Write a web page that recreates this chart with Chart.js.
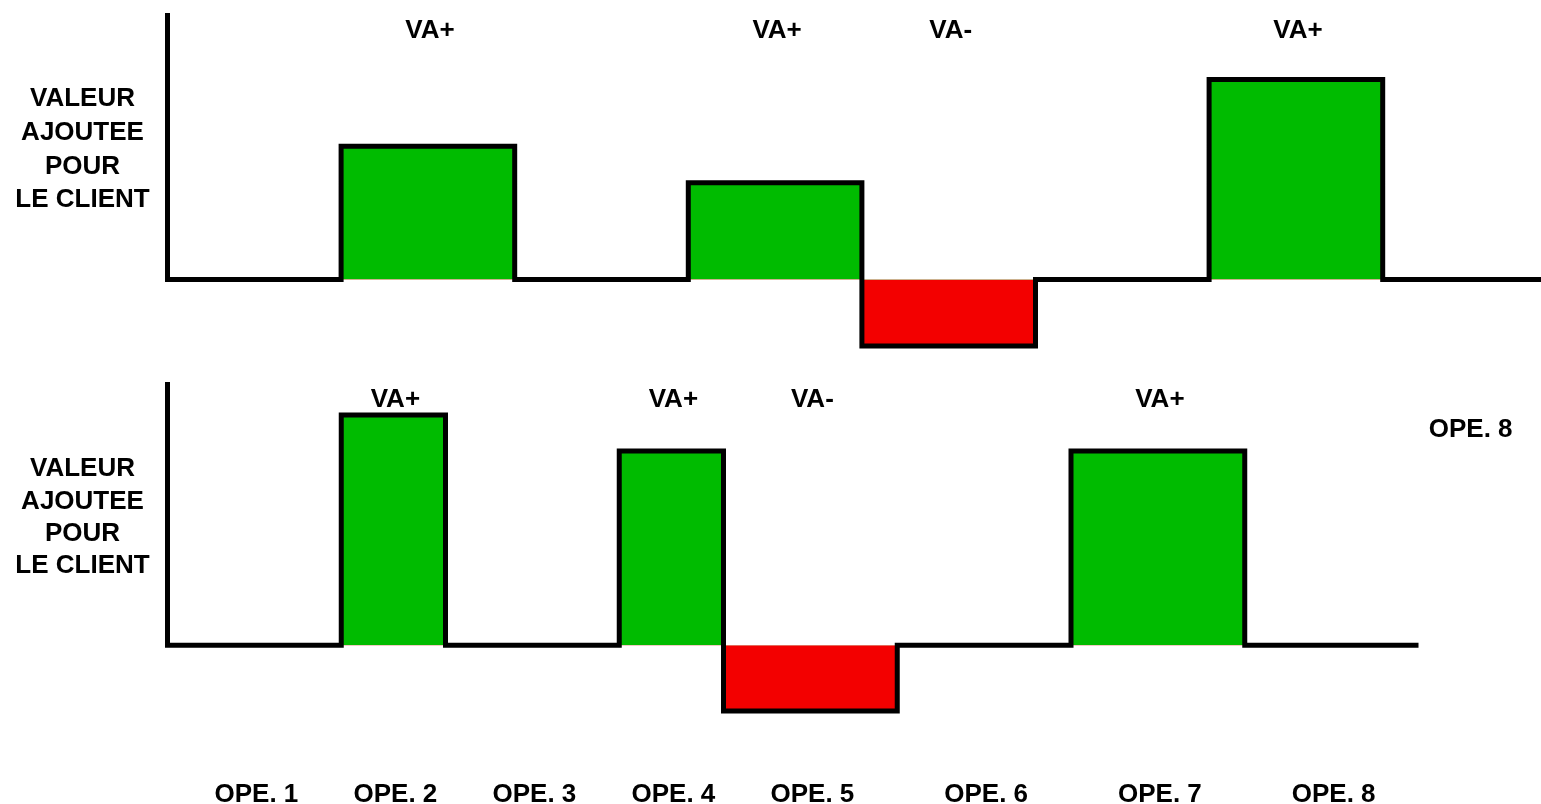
<!DOCTYPE html>
<html lang="fr">
<head>
<meta charset="utf-8">
<title>Valeur ajoutée pour le client</title>
<script src="https://cdn.jsdelivr.net/npm/chart.js@4.4.1/dist/chart.umd.min.js"></script>
<style>
  html, body { margin: 0; padding: 0; background: #fff; overflow: hidden; }
  body { width: 1541px; height: 804px; position: relative; }
  canvas { position: absolute; left: 0; }
  #chart-top { top: 0; }
  #chart-bottom { top: 370px; }
</style>
</head>
<body>
<canvas id="chart-top" width="1570" height="390"></canvas>
<canvas id="chart-bottom" width="1570" height="434"></canvas>

<script>
// ─── Data ──────────────────────────────────────────────────────────────────
const OPERATIONS = ['OPE. 1', 'OPE. 2', 'OPE. 3', 'OPE. 4', 'OPE. 5', 'OPE. 6', 'OPE. 7', 'OPE. 8'];
const VA_TAGS = ['', 'VA+', '', 'VA+', 'VA-', '', 'VA+', ''];
const Y_TITLE = ['VALEUR', 'AJOUTEE', 'POUR', 'LE CLIENT'];

// before: every operation takes one time unit
const TOP_DURATIONS = [1, 1, 1, 1, 1, 1, 1, 1];
const TOP_VALUES = [0, 4, 0, 2.9, -2, 0, 6, 0];

// after: OPE. 2 and OPE. 4 shortened
const BOTTOM_DURATIONS = [1, 0.6, 1, 0.6, 1, 1, 1, 1];
const BOTTOM_VALUES = [0, 7, 0, 5.9, -2, 0, 5.9, 0];

const Y_MAX = 8;
const Y_MIN = -3;
const X_MAX = 8;

// ─── Style ─────────────────────────────────────────────────────────────────
const GREEN = '#00bb00';
const RED = '#f30000';
const FONT = 'bold 26px "Liberation Sans", Arial, Helvetica, sans-serif';
const TEXT_SHIFT = 2;

// ─── Helpers ───────────────────────────────────────────────────────────────
// step path: starts at the top of the value axis, then one level per operation
function stepPoints(durations, values) {
  const pts = [{ x: 0, y: Y_MAX }];
  let x = 0;
  values.forEach((v, i) => { pts.push({ x, y: v }); x += durations[i]; });
  pts.push({ x, y: values[values.length - 1] });
  return pts;
}

const vaLabels = {
  id: 'vaLabels',
  afterDatasetsDraw(chart, args, opts) {
    const { ctx, scales: { x, y } } = chart;
    ctx.save();
    ctx.font = FONT;
    ctx.fillStyle = '#000';
    ctx.textAlign = 'center';
    ctx.textBaseline = 'middle';

    let start = 0;
    opts.durations.forEach((d, i) => {
      const cx = x.getPixelForValue(start + d / 2) + TEXT_SHIFT;
      if (opts.tags[i]) ctx.fillText(opts.tags[i], cx, y.getPixelForValue(opts.tagLevel));
      if (opts.categories) ctx.fillText(opts.categories[i], cx, y.getPixelForValue(opts.categoryLevel));
      start += d;
    });

    // value axis title, one line per y unit, centred a little under half the axis
    const n = Y_TITLE.length;
    Y_TITLE.forEach((line, i) => {
      ctx.fillText(line, opts.titleX, y.getPixelForValue(opts.titleMid + (n - 1) / 2 * opts.titleStep - i * opts.titleStep));
    });

    (opts.notes || []).forEach(nt => {
      ctx.fillText(nt.text, x.getPixelForValue(nt.x), y.getPixelForValue(nt.y));
    });
    ctx.restore();
  }
};

function makeChart(id, durations, values, padding, labelOpts) {
  const ctx = document.getElementById(id).getContext('2d');
  return new Chart(ctx, {
    type: 'line',
    data: {
      datasets: [{
        data: stepPoints(durations, values),
        stepped: 'before',
        borderColor: '#000',
        borderWidth: 5,
        borderJoinStyle: 'miter',
        borderCapStyle: 'butt',
        pointRadius: 0,
        clip: false,
        fill: { target: { value: 0 }, above: GREEN, below: RED },
      }]
    },
    options: {
      responsive: false,
      animation: false,
      layout: { padding },
      scales: {
        x: { type: 'linear', min: 0, max: X_MAX, display: false },
        y: { min: Y_MIN, max: Y_MAX, display: false },
      },
      plugins: {
        legend: { display: false },
        tooltip: { enabled: false },
        vaLabels: { durations, tags: VA_TAGS, ...labelOpts },
      }
    },
    plugins: [vaLabels]
  });
}

// ─── Init ──────────────────────────────────────────────────────────────────
makeChart('chart-top', TOP_DURATIONS, TOP_VALUES,
  { left: 167.5, top: 13, right: 13.7, bottom: 10.7 },
  { tagLevel: 7.45, titleX: 82.5, titleMid: 3.9, titleStep: 1.01 });

makeChart('chart-bottom', BOTTOM_DURATIONS, BOTTOM_VALUES,
  { left: 167.5, top: 12, right: 12.5, bottom: 60.1 },
  { tagLevel: 7.45, titleX: 82.5, titleMid: 3.88, titleStep: 0.98,
    categories: OPERATIONS, categoryLevel: -4.56,
    notes: [{ text: 'OPE. 8', x: 7.5, y: 6.55 }] });
</script>
</body>
</html>
